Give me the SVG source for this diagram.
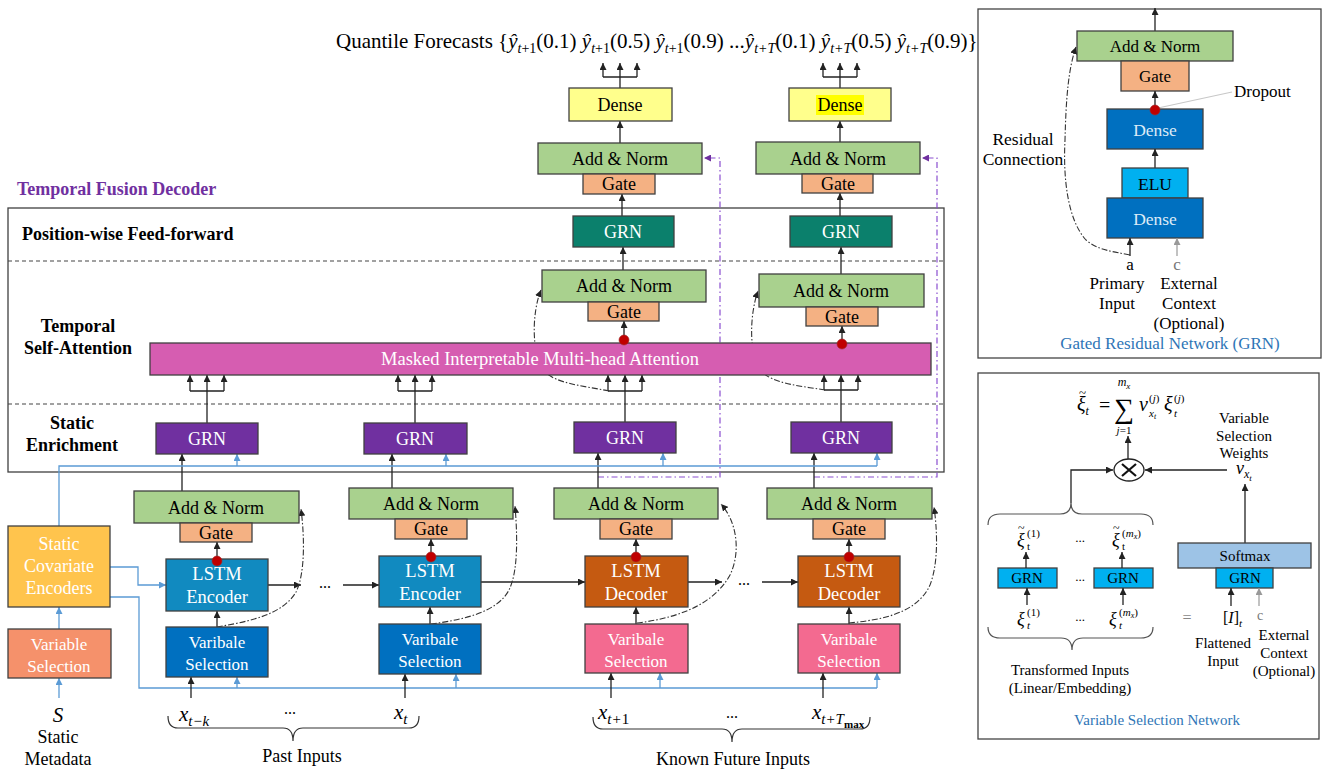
<svg xmlns="http://www.w3.org/2000/svg" width="1324" height="771" viewBox="0 0 1324 771" font-family="'Liberation Serif','Times New Roman',serif">
<defs>
<style>
text{font-family:"Liberation Serif","Times New Roman",serif}
.c{text-anchor:middle}
.w{fill:#fff}
.bx{stroke:#404040;stroke-width:1.3}
.an{fill:#A9D18E}
.gt{fill:#F4B183}
.ln{stroke:#222;stroke-width:1.3;fill:none}
.bl{stroke:#5B9BD5;stroke-width:1.3;fill:none}
.dd{stroke:#333;stroke-width:1.1;fill:none;stroke-dasharray:6 2 1.5 2}
.pd{stroke:#8A4FD0;stroke-width:1.2;fill:none;stroke-dasharray:6 3 1.5 3}
.gr{stroke:#999;stroke-width:1.2;fill:none}
.dot{fill:#C00000;stroke:#9b2b2b;stroke-width:0.6}
.lbl{font-weight:bold;font-size:18px}
.v{font-size:15px}
</style>
<marker id="ak" markerWidth="7" markerHeight="7" refX="7" refY="3.5" orient="auto" markerUnits="userSpaceOnUse"><path d="M0,0 L7,3.5 L0,7 z" fill="#222"/></marker>
<marker id="ab" markerWidth="7" markerHeight="7" refX="7" refY="3.5" orient="auto" markerUnits="userSpaceOnUse"><path d="M0,0 L7,3.5 L0,7 z" fill="#5B9BD5"/></marker>
<marker id="ap" markerWidth="7" markerHeight="7" refX="7" refY="3.5" orient="auto" markerUnits="userSpaceOnUse"><path d="M0,0 L7,3.5 L0,7 z" fill="#7030A0"/></marker>
<marker id="ag" markerWidth="7" markerHeight="7" refX="7" refY="3.5" orient="auto" markerUnits="userSpaceOnUse"><path d="M0,0 L7,3.5 L0,7 z" fill="#999"/></marker>
</defs>
<rect width="1324" height="771" fill="#fff"/>

<!-- Quantile forecasts title -->
<text id="quantiles" x="336" y="48" font-size="21">Quantile Forecasts {<tspan font-style="italic">ŷ</tspan><tspan font-size="14" dy="5"><tspan font-style="italic">t</tspan>+1</tspan><tspan dy="-5">(0.1) </tspan><tspan font-style="italic">ŷ</tspan><tspan font-size="14" dy="5"><tspan font-style="italic">t</tspan>+1</tspan><tspan dy="-5">(0.5) </tspan><tspan font-style="italic">ŷ</tspan><tspan font-size="14" dy="5"><tspan font-style="italic">t</tspan>+1</tspan><tspan dy="-5">(0.9)  ...</tspan><tspan font-style="italic">ŷ</tspan><tspan font-size="14" dy="5" font-style="italic">t+T</tspan><tspan dy="-5">(0.1) </tspan><tspan font-style="italic">ŷ</tspan><tspan font-size="14" dy="5" font-style="italic">t+T</tspan><tspan dy="-5">(0.5) </tspan><tspan font-style="italic">ŷ</tspan><tspan font-size="14" dy="5" font-style="italic">t+T</tspan><tspan dy="-5">(0.9)}</tspan></text>

<!-- Decoder frame -->
<g id="decoder-frame">
<text x="17" y="195" font-size="18" font-weight="bold" fill="#7030A0">Temporal Fusion Decoder</text>
<rect x="8" y="208" width="936" height="264" fill="none" stroke="#404040" stroke-width="1.3"/>
<line x1="8" y1="261" x2="944" y2="261" stroke="#444" stroke-width="1.2" stroke-dasharray="4 3"/>
<line x1="8" y1="404" x2="944" y2="404" stroke="#444" stroke-width="1.2" stroke-dasharray="4 3"/>
<text class="lbl" x="22" y="240">Position-wise Feed-forward</text>
<text class="lbl c" x="78" y="332">Temporal</text>
<text class="lbl c" x="78" y="354">Self-Attention</text>
<text class="lbl c" x="72" y="429">Static</text>
<text class="lbl c" x="72" y="451">Enrichment</text>
</g>

<!-- Connectors -->
<g id="connectors">
<path class="ln" d="M620,88 V63" marker-end="url(#ak)"/>
<path class="ln" d="M603,77 H637"/>
<path class="ln" d="M603,77 V63" marker-end="url(#ak)"/>
<path class="ln" d="M637,77 V63" marker-end="url(#ak)"/>
<path class="ln" d="M840,88 V63" marker-end="url(#ak)"/>
<path class="ln" d="M823,77 H857"/>
<path class="ln" d="M823,77 V63" marker-end="url(#ak)"/>
<path class="ln" d="M857,77 V63" marker-end="url(#ak)"/>
<path class="ln" d="M620,143 V121" marker-end="url(#ak)"/>
<path class="ln" d="M840,142 V121" marker-end="url(#ak)"/>
<path class="ln" d="M622,216 V194" marker-end="url(#ak)"/>
<path class="ln" d="M840,216 V193" marker-end="url(#ak)"/>
<path class="ln" d="M623,270 V247" marker-end="url(#ak)"/>
<path class="ln" d="M841,274 V247" marker-end="url(#ak)"/>
<path class="ln" d="M624,338 V321" marker-end="url(#ak)"/>
<path class="ln" d="M842,342 V326" marker-end="url(#ak)"/>
<path class="ln" d="M207,423 V375" marker-end="url(#ak)"/>
<path class="ln" d="M190,391 H224 M190,391 V385 M224,391 V385"/>
<path class="ln" d="M190,385 V375" marker-end="url(#ak)"/>
<path class="ln" d="M224,385 V375" marker-end="url(#ak)"/>
<path class="ln" d="M415,423 V375" marker-end="url(#ak)"/>
<path class="ln" d="M398,391 H432 M398,391 V385 M432,391 V385"/>
<path class="ln" d="M398,385 V375" marker-end="url(#ak)"/>
<path class="ln" d="M432,385 V375" marker-end="url(#ak)"/>
<path class="ln" d="M625,422 V375" marker-end="url(#ak)"/>
<path class="ln" d="M608,391 H642 M608,391 V385 M642,391 V385"/>
<path class="ln" d="M608,385 V375" marker-end="url(#ak)"/>
<path class="ln" d="M642,385 V375" marker-end="url(#ak)"/>
<path class="ln" d="M841,422 V375" marker-end="url(#ak)"/>
<path class="ln" d="M824,390 H858 M824,390 V385 M858,390 V385"/>
<path class="ln" d="M824,385 V375" marker-end="url(#ak)"/>
<path class="ln" d="M858,385 V375" marker-end="url(#ak)"/>
<path class="dd" d="M609,391 C585,386 556,384 544,371 C531,353 532,312 541,290" marker-end="url(#ak)"/>
<path class="dd" d="M825,390 C801,386 773,384 761,371 C748,353 750,313 758,291" marker-end="url(#ak)"/>
<path class="pd" d="M598,477 H720 V158 H704" marker-end="url(#ap)"/>
<path class="pd" d="M814,477 H937 V158 H922" marker-end="url(#ap)"/>
<path class="ln" d="M182,491 V454" marker-end="url(#ak)"/>
<path class="ln" d="M392,488 V454" marker-end="url(#ak)"/>
<path class="ln" d="M598,488 V453" marker-end="url(#ak)"/>
<path class="ln" d="M814,488 V453" marker-end="url(#ak)"/>
<path class="bl" d="M59,526 V466 H877"/>
<path class="bl" d="M237,466 V454" marker-end="url(#ab)"/>
<path class="bl" d="M446,466 V454" marker-end="url(#ab)"/>
<path class="bl" d="M663,466 V453" marker-end="url(#ab)"/>
<path class="bl" d="M877,466 V453" marker-end="url(#ab)"/>
<path class="bl" d="M110,567 H138 V585 H166" marker-end="url(#ab)"/>
<path class="bl" d="M110,597 H139 V688 H877"/>
<path class="bl" d="M237,688 V677" marker-end="url(#ab)"/>
<path class="bl" d="M456,688 V674" marker-end="url(#ab)"/>
<path class="bl" d="M660,688 V673" marker-end="url(#ab)"/>
<path class="bl" d="M877,688 V673" marker-end="url(#ab)"/>
<path class="bl" d="M59,629 V607" marker-end="url(#ab)"/>
<path class="bl" d="M59,698 V678" marker-end="url(#ab)"/>
<path class="ln" d="M191,698 V677" marker-end="url(#ak)"/>
<path class="ln" d="M405,698 V674" marker-end="url(#ak)"/>
<path class="ln" d="M611,698 V673" marker-end="url(#ak)"/>
<path class="ln" d="M823,698 V673" marker-end="url(#ak)"/>
<path class="ln" d="M217,627 V611" marker-end="url(#ak)"/>
<path class="ln" d="M430,624 V607" marker-end="url(#ak)"/>
<path class="ln" d="M636,624 V607" marker-end="url(#ak)"/>
<path class="ln" d="M849,624 V607" marker-end="url(#ak)"/>
<path class="ln" d="M217,559 V542" marker-end="url(#ak)"/>
<path class="ln" d="M431,556 V539" marker-end="url(#ak)"/>
<path class="ln" d="M636,556 V539" marker-end="url(#ak)"/>
<path class="ln" d="M849,556 V539" marker-end="url(#ak)"/>
<path class="ln" d="M268,585 H301" marker-end="url(#ak)"/>
<path class="ln" d="M343,585 H379" marker-end="url(#ak)"/>
<path class="ln" d="M481,582 H585" marker-end="url(#ak)"/>
<path class="ln" d="M688,582 H722" marker-end="url(#ak)"/>
<path class="ln" d="M762,582 H798" marker-end="url(#ak)"/>
<path class="dd" d="M217,627 C245,622 282,616 296,592 C306,572 304,532 301,509" marker-end="url(#ak)"/>
<path class="dd" d="M431,624 C461,620 497,613 509,590 C519,570 517,530 515,506" marker-end="url(#ak)"/>
<path class="dd" d="M637,623 C670,619 712,608 730,575 C741,552 737,522 721,504" marker-end="url(#ak)"/>
<path class="dd" d="M849,623 C880,620 917,614 930,585 C939,562 937,528 934,507" marker-end="url(#ak)"/>
</g>

<!-- Upper stack 1 -->
<g id="dense1"><rect class="bx" x="569" y="88" width="103" height="33" fill="#FFFF8C"/><text class="c" x="620" y="111" font-size="18">Dense</text></g>
<g id="addnorm-out1"><rect class="bx an" x="538" y="143" width="164" height="31"/><text class="c" x="620" y="165" font-size="18">Add &amp; Norm</text></g>
<g id="gate-out1"><rect class="bx gt" x="583" y="174" width="72" height="20"/><text class="c" x="619" y="190" font-size="18">Gate</text></g>
<g id="ffgrn1"><rect class="bx" x="573" y="216" width="101" height="31" fill="#0B806C"/><text class="c w" x="623" y="238" font-size="18">GRN</text></g>
<g id="addnorm-att1"><rect class="bx an" x="542" y="270" width="164" height="32"/><text class="c" x="624" y="292" font-size="18">Add &amp; Norm</text></g>
<g id="gate-att1"><rect class="bx gt" x="588" y="302" width="71" height="19"/><text class="c" x="624" y="318" font-size="18">Gate</text></g>

<!-- Upper stack 2 -->
<g id="dense2"><rect class="bx" x="789" y="88" width="102" height="33" fill="#FFFF8C"/><rect x="816" y="95" width="48" height="20" fill="#FFFF00"/><text class="c" x="840" y="111" font-size="18">Dense</text></g>
<g id="addnorm-out2"><rect class="bx an" x="756" y="142" width="164" height="32"/><text class="c" x="838" y="165" font-size="18">Add &amp; Norm</text></g>
<g id="gate-out2"><rect class="bx gt" x="802" y="174" width="71" height="19"/><text class="c" x="838" y="190" font-size="18">Gate</text></g>
<g id="ffgrn2"><rect class="bx" x="790" y="216" width="102" height="31" fill="#0B806C"/><text class="c w" x="841" y="238" font-size="18">GRN</text></g>
<g id="addnorm-att2"><rect class="bx an" x="759" y="274" width="165" height="33"/><text class="c" x="841" y="297" font-size="18">Add &amp; Norm</text></g>
<g id="gate-att2"><rect class="bx gt" x="806" y="307" width="72" height="19"/><text class="c" x="842" y="323" font-size="18">Gate</text></g>

<!-- Attention -->
<g id="attention"><rect class="bx" x="150" y="343" width="781" height="32" fill="#D65DB1"/><text class="c w" x="540" y="365" font-size="18.5">Masked Interpretable Multi-head Attention</text></g>
<g id="dots-att"><circle class="dot" cx="624" cy="340" r="5"/><circle class="dot" cx="842" cy="344" r="5"/></g>

<!-- Static enrichment GRNs -->
<g id="segrn1"><rect class="bx" x="156" y="423" width="102" height="31" fill="#7030A0"/><text class="c w" x="207" y="445" font-size="18">GRN</text></g>
<g id="segrn2"><rect class="bx" x="364" y="423" width="103" height="31" fill="#7030A0"/><text class="c w" x="415" y="445" font-size="18">GRN</text></g>
<g id="segrn3"><rect class="bx" x="574" y="422" width="102" height="31" fill="#7030A0"/><text class="c w" x="625" y="444" font-size="18">GRN</text></g>
<g id="segrn4"><rect class="bx" x="791" y="422" width="101" height="31" fill="#7030A0"/><text class="c w" x="841" y="444" font-size="18">GRN</text></g>

<!-- Encoder 1 -->
<g id="enc1">
<rect class="bx an" x="134" y="491" width="165" height="32"/><text class="c" x="216" y="514" font-size="18">Add &amp; Norm</text>
<rect class="bx gt" x="180" y="523" width="72" height="19"/><text class="c" x="216" y="539" font-size="18">Gate</text>
<rect class="bx" x="166" y="559" width="102" height="52" fill="#118AC0"/><text class="c w" x="217" y="580" font-size="18.5">LSTM</text><text class="c w" x="217" y="603" font-size="18.5">Encoder</text>
<rect class="bx" x="166" y="627" width="102" height="50" fill="#0070C0"/><text class="c w" x="217" y="648" font-size="17">Varibale</text><text class="c w" x="217" y="670" font-size="17">Selection</text>
<circle class="dot" cx="217" cy="561" r="5"/>
</g>
<!-- Encoder 2 -->
<g id="enc2">
<rect class="bx an" x="349" y="488" width="164" height="31"/><text class="c" x="431" y="510" font-size="18">Add &amp; Norm</text>
<rect class="bx gt" x="395" y="519" width="72" height="20"/><text class="c" x="431" y="535" font-size="18">Gate</text>
<rect class="bx" x="379" y="556" width="102" height="51" fill="#118AC0"/><text class="c w" x="430" y="577" font-size="18.5">LSTM</text><text class="c w" x="430" y="600" font-size="18.5">Encoder</text>
<rect class="bx" x="379" y="624" width="102" height="50" fill="#0070C0"/><text class="c w" x="430" y="645" font-size="17">Varibale</text><text class="c w" x="430" y="667" font-size="17">Selection</text>
<circle class="dot" cx="431" cy="557" r="5"/>
</g>
<!-- Decoder 1 -->
<g id="dec1">
<rect class="bx an" x="554" y="488" width="164" height="31"/><text class="c" x="636" y="510" font-size="18">Add &amp; Norm</text>
<rect class="bx gt" x="600" y="519" width="72" height="20"/><text class="c" x="636" y="535" font-size="18">Gate</text>
<rect class="bx" x="585" y="556" width="103" height="51" fill="#C55A11"/><text class="c w" x="636" y="577" font-size="18.5">LSTM</text><text class="c w" x="636" y="600" font-size="18.5">Decoder</text>
<rect class="bx" x="585" y="624" width="103" height="49" fill="#F36A90"/><text class="c w" x="636" y="645" font-size="17">Varibale</text><text class="c w" x="636" y="667" font-size="17">Selection</text>
<circle class="dot" cx="636" cy="557" r="5"/>
</g>
<!-- Decoder 2 -->
<g id="dec2">
<rect class="bx an" x="767" y="488" width="165" height="31"/><text class="c" x="849" y="510" font-size="18">Add &amp; Norm</text>
<rect class="bx gt" x="813" y="519" width="72" height="20"/><text class="c" x="849" y="535" font-size="18">Gate</text>
<rect class="bx" x="798" y="556" width="102" height="51" fill="#C55A11"/><text class="c w" x="849" y="577" font-size="18.5">LSTM</text><text class="c w" x="849" y="600" font-size="18.5">Decoder</text>
<rect class="bx" x="798" y="624" width="102" height="49" fill="#F36A90"/><text class="c w" x="849" y="645" font-size="17">Varibale</text><text class="c w" x="849" y="667" font-size="17">Selection</text>
<circle class="dot" cx="849" cy="557" r="5"/>
</g>
<text x="325" y="588" font-size="16" class="c">...</text>
<text x="744" y="585" font-size="16" class="c">...</text>

<!-- Static -->
<g id="static-cov"><rect class="bx" x="8" y="526" width="102" height="81" fill="#FFC44D"/><text class="c w" x="59" y="550" font-size="18">Static</text><text class="c w" x="59" y="572" font-size="18">Covariate</text><text class="c w" x="59" y="594" font-size="18">Encoders</text></g>
<g id="static-vs"><rect class="bx" x="8" y="629" width="103" height="49" fill="#F5916B"/><text class="c w" x="59" y="650" font-size="17">Variable</text><text class="c w" x="59" y="672" font-size="17">Selection</text></g>
<g id="static-meta"><text class="c" x="58" y="722" font-size="21" font-style="italic">S</text><text class="c" x="58" y="743" font-size="18">Static</text><text class="c" x="58" y="765" font-size="18">Metadata</text></g>

<!-- Inputs -->
<g id="past-inputs">
<text x="179" y="721" font-size="21" font-style="italic">x<tspan font-size="15" dy="5">t−k</tspan></text>
<text x="290" y="714" font-size="16" class="c">...</text>
<text x="394" y="719" font-size="21" font-style="italic">x<tspan font-size="15" dy="5">t</tspan></text>
<path d="M168,716 Q168,728 178,728 H283 Q293,728 293,741 Q293,728 303,728 H409 Q419,728 419,716" fill="none" stroke="#333" stroke-width="1.2"/>
<text class="c" x="302" y="762" font-size="18">Past Inputs</text>
</g>
<g id="future-inputs">
<text x="598" y="719" font-size="21" font-style="italic">x<tspan font-size="15" dy="5">t+<tspan font-style="normal">1</tspan></tspan></text>
<text x="732" y="718" font-size="16" class="c">...</text>
<text x="812" y="719" font-size="21" font-style="italic">x<tspan font-size="15" dy="5">t+T</tspan><tspan font-size="11" dy="4" font-style="normal" font-weight="bold">max</tspan></text>
<path d="M593,717 Q593,729 603,729 H722 Q732,729 732,742 Q732,729 742,729 H860 Q870,729 870,717" fill="none" stroke="#333" stroke-width="1.2"/>
<text class="c" x="733" y="765" font-size="18">Known Future Inputs</text>
</g>

<!-- GRN panel -->
<g id="grn-panel">
<rect x="978" y="9" width="343" height="349" fill="none" stroke="#444" stroke-width="1.3"/>
<path class="ln" d="M1155,31 V8" marker-end="url(#ak)"/>
<rect class="bx an" x="1077" y="31" width="156" height="30"/><text class="c" x="1155" y="52" font-size="17">Add &amp; Norm</text>
<rect class="bx gt" x="1121" y="61" width="68" height="30"/><text class="c" x="1155" y="82" font-size="17">Gate</text>
<path class="ln" d="M1155,108 V91" marker-end="url(#ak)"/>
<line x1="1158" y1="108" x2="1232" y2="92" stroke="#c8c8c8" stroke-width="1.2"/>
<text x="1234" y="97" font-size="17">Dropout</text>
<rect class="bx" x="1107" y="109" width="96" height="40" fill="#0070C0"/><text class="c" x="1155" y="136" font-size="17.5" fill="#DDEBF7">Dense</text>
<circle class="dot" cx="1155" cy="110" r="5"/>
<path class="ln" d="M1155,168 V149" marker-end="url(#ak)"/>
<rect class="bx" x="1122" y="168" width="66" height="30" fill="#00B0F0"/><text class="c" x="1155" y="190" font-size="17.5">ELU</text>
<rect class="bx" x="1107" y="198" width="96" height="40" fill="#0070C0"/><text class="c" x="1155" y="225" font-size="17.5" fill="#DDEBF7">Dense</text>
<path class="ln" d="M1130,256 V238" marker-end="url(#ak)"/>
<path class="gr" d="M1177,256 V238" marker-end="url(#ag)"/>
<path class="dd" d="M1130,255 C1110,251 1098,250 1086,240 C1068,220 1063,180 1065,140 C1066,100 1068,70 1076,47" marker-end="url(#ak)"/>
<text class="c" x="1023" y="145" font-size="17.5">Residual</text>
<text class="c" x="1023" y="165" font-size="17.5">Connection</text>
<text class="c" x="1130" y="270" font-size="17">a</text>
<text class="c" x="1177" y="270" font-size="17" fill="#777">c</text>
<text class="c" x="1117" y="289" font-size="17">Primary</text>
<text class="c" x="1117" y="309" font-size="17">Input</text>
<text class="c" x="1189" y="289" font-size="17">External</text>
<text class="c" x="1189" y="309" font-size="17">Context</text>
<text class="c" x="1189" y="329" font-size="17">(Optional)</text>
<text class="c" x="1170" y="349" font-size="17" fill="#2E75B6">Gated Residual Network (GRN)</text>
</g>

<!-- VSN panel -->
<g id="vsn-panel">
<rect x="978" y="373" width="341" height="366" fill="none" stroke="#444" stroke-width="1.3"/>
<text x="1077" y="411" font-size="20" font-style="italic">ξ<tspan font-size="12" dy="4">t</tspan></text>
<text x="1079" y="397" font-size="13">~</text>
<text x="1099" y="412" font-size="20">=</text>
<text class="c" x="1124" y="418" font-size="28">∑</text>
<text class="c" x="1124" y="386" font-size="12" font-style="italic">m<tspan font-size="9" dy="3">x</tspan></text>
<text class="c" x="1124" y="434" font-size="11" font-style="italic">j<tspan font-style="normal">=1</tspan></text>
<text x="1139" y="411" font-size="20" font-style="italic">v</text>
<text x="1149" y="402" font-size="11">(<tspan font-style="italic">j</tspan>)</text>
<text x="1149" y="417" font-size="11" font-style="italic">x<tspan font-size="8" dy="2">t</tspan></text>
<text x="1164" y="411" font-size="20" font-style="italic">ξ</text>
<text x="1174" y="402" font-size="11">(<tspan font-style="italic">j</tspan>)</text>
<text x="1174" y="417" font-size="11" font-style="italic">t</text>
<path class="ln" d="M1128,459 V436" marker-end="url(#ak)"/>
<ellipse cx="1129" cy="470" rx="15" ry="11" fill="#fff" stroke="#222" stroke-width="1.3"/>
<path d="M1122,464 L1136,476 M1136,464 L1122,476" stroke="#111" stroke-width="2.2"/>
<path class="ln" d="M1071,503 V470 H1113" marker-end="url(#ak)"/>
<path class="ln" d="M1227,470 H1145" marker-end="url(#ak)"/>
<text class="c v" x="1244" y="423">Variable</text>
<text class="c v" x="1244" y="441">Selection</text>
<text class="c v" x="1244" y="458">Weights</text>
<text x="1236" y="474" font-size="18" font-style="italic">v<tspan font-size="12" dy="4">x</tspan><tspan font-size="9" dy="3">t</tspan></text>
<path class="ln" d="M1245,543 V484" marker-end="url(#ak)"/>
<rect class="bx" x="1178" y="543" width="133" height="25" fill="#9DC3E6"/><text class="c v" x="1245" y="561">Softmax</text>
<rect class="bx" x="1216" y="568" width="57" height="20" fill="#00B0F0"/><text class="c v" x="1245" y="583">GRN</text>
<path class="ln" d="M1231,606 V588" marker-end="url(#ak)"/>
<path class="gr" d="M1259,606 V588" marker-end="url(#ag)"/>
<text x="1223" y="623" font-size="16">[<tspan font-style="italic">I</tspan>]<tspan font-size="11" dy="4" font-style="italic">t</tspan></text>
<text class="c" x="1260" y="620" font-size="14" fill="#777">c</text>
<text class="c" x="1187" y="623" font-size="16" fill="#888">=</text>
<text class="c v" x="1223" y="648">Flattened</text>
<text class="c v" x="1223" y="666">Input</text>
<text class="c v" x="1284" y="640">External</text>
<text class="c v" x="1284" y="658">Context</text>
<text class="c v" x="1284" y="676">(Optional)</text>
<rect class="bx" x="998" y="568" width="59" height="20" fill="#00B0F0"/><text class="c v" x="1027" y="583">GRN</text>
<rect class="bx" x="1094" y="568" width="59" height="20" fill="#00B0F0"/><text class="c v" x="1123" y="583">GRN</text>
<text class="c" x="1080" y="581" font-size="13">...</text>
<text class="c" x="1080" y="542" font-size="13">...</text>
<text class="c" x="1080" y="621" font-size="13">...</text>
<path class="ln" d="M1026,568 V552" marker-end="url(#ak)"/>
<path class="ln" d="M1122,568 V552" marker-end="url(#ak)"/>
<path class="ln" d="M1027,605 V588" marker-end="url(#ak)"/>
<path class="ln" d="M1123,605 V588" marker-end="url(#ak)"/>
<text x="1017" y="546" font-size="18" font-style="italic">ξ</text><text x="1018" y="532" font-size="12">~</text><text x="1027" y="537" font-size="11">(1)</text><text x="1027" y="550" font-size="11">t</text>
<text x="1112" y="546" font-size="18" font-style="italic">ξ</text><text x="1113" y="532" font-size="12">~</text><text x="1122" y="537" font-size="11">(<tspan font-style="italic">m</tspan><tspan font-size="8" font-style="italic" dy="2">x</tspan><tspan dy="-2">)</tspan></text><text x="1122" y="550" font-size="11">t</text>
<text x="1017" y="625" font-size="18" font-style="italic">ξ</text><text x="1027" y="616" font-size="11">(1)</text><text x="1027" y="629" font-size="11" font-style="italic">t</text>
<text x="1109" y="625" font-size="18" font-style="italic">ξ</text><text x="1119" y="616" font-size="11">(<tspan font-style="italic">m</tspan><tspan font-size="8" font-style="italic" dy="2">x</tspan><tspan dy="-2">)</tspan></text><text x="1119" y="629" font-size="11" font-style="italic">t</text>
<path d="M988,525 Q988,514 1000,514 H1060 Q1071,514 1071,503 Q1071,514 1082,514 H1141 Q1153,514 1153,525" fill="none" stroke="#555" stroke-width="1.2"/>
<path d="M988,627 Q988,638 1000,638 H1061 Q1072,638 1072,650 Q1072,638 1083,638 H1141 Q1153,638 1153,627" fill="none" stroke="#555" stroke-width="1.2"/>
<text class="c v" x="1070" y="675">Transformed Inputs</text>
<text class="c v" x="1070" y="693">(Linear/Embedding)</text>
<text class="c" x="1157" y="725" font-size="15" fill="#2E75B6">Variable Selection Network</text>
</g>
</svg>
